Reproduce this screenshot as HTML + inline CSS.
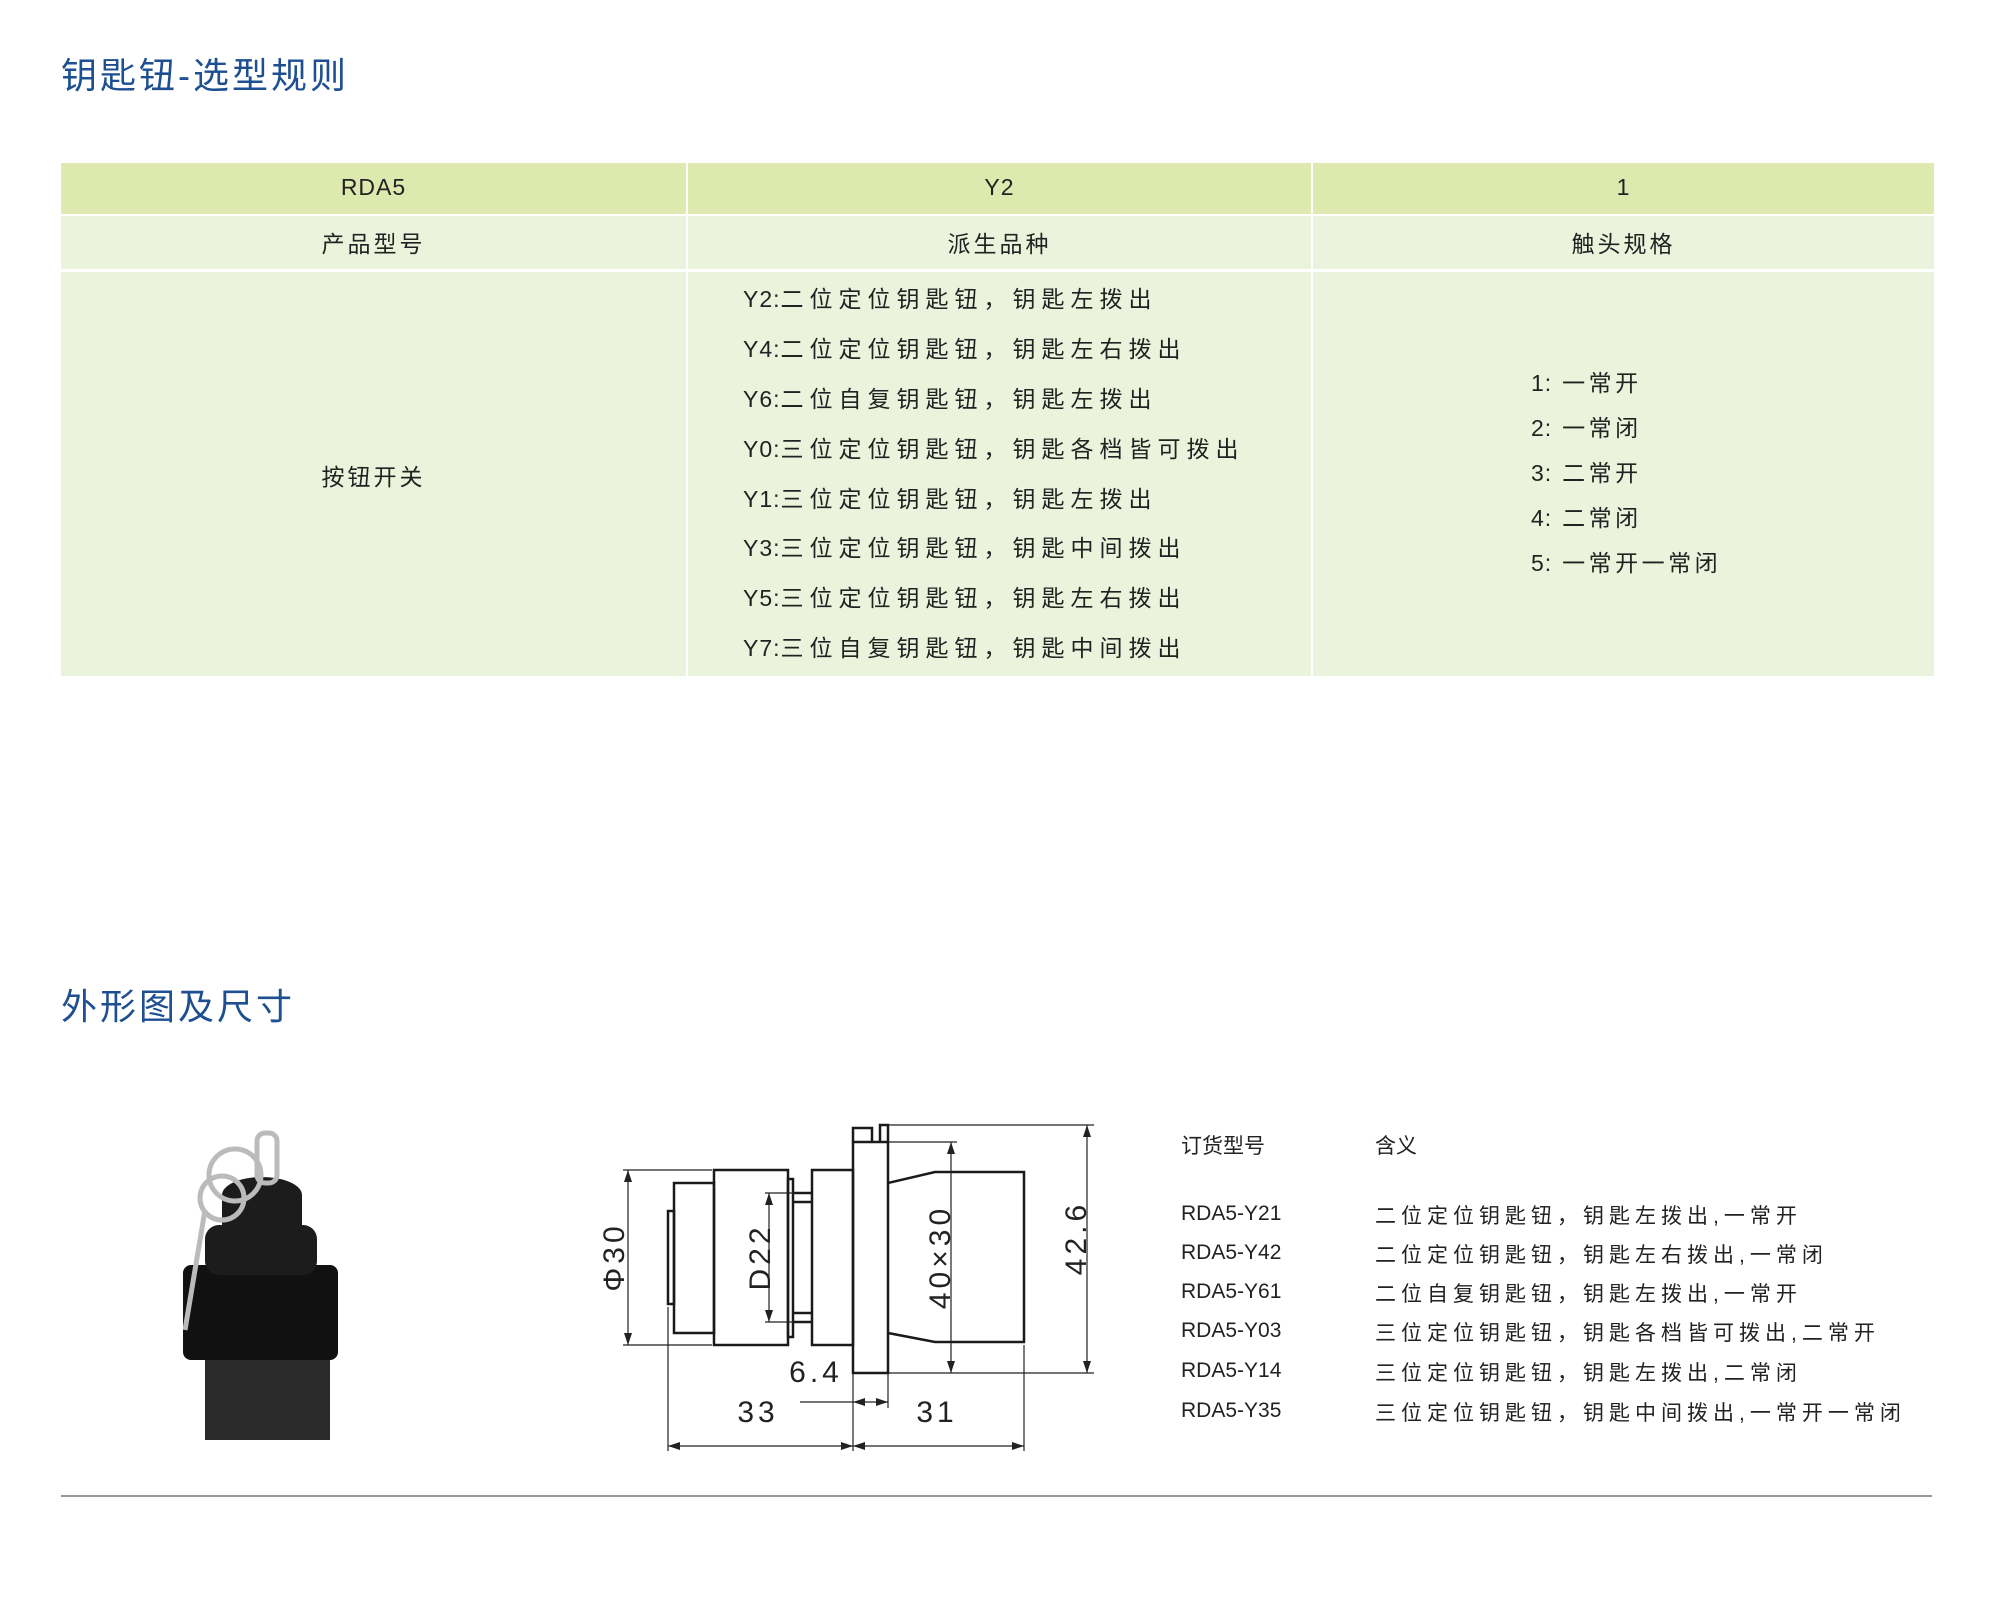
<!DOCTYPE html>
<html><head><meta charset="utf-8"><style>
body{margin:0;width:2000px;height:1597px;background:#fff;position:relative;overflow:hidden;font-family:"Liberation Sans","Noto Sans CJK SC",sans-serif;color:#222}
.a{position:absolute;white-space:nowrap}
.t{color:#1d4f91;font-size:36px;letter-spacing:3px}
.c{position:absolute;text-align:center;font-size:23px;letter-spacing:3px}
.h{letter-spacing:1px}
.l{position:absolute;font-size:23px;letter-spacing:6px}
.l span,.m span{letter-spacing:1px}
.m{position:absolute;font-size:23px;letter-spacing:3.5px}
.r{position:absolute;font-size:21px}
.r2{position:absolute;font-size:21px;letter-spacing:5px}
</style></head><body>
<div class="a t" style="left:61px;top:47px">钥匙钮-选型规则</div>
<div class="a" style="left:61px;top:163px;width:1873px;height:51px;background:#dde9ae"></div>
<div class="a" style="left:61px;top:216px;width:1873px;height:53px;background:#ecf3dc"></div>
<div class="a" style="left:61px;top:272px;width:1873px;height:404px;background:#ecf3dc"></div>
<div class="a" style="left:686px;top:163px;width:2px;height:513px;background:#fff"></div>
<div class="a" style="left:1311px;top:163px;width:2px;height:513px;background:#fff"></div>
<div class="c h" style="left:61px;width:625px;top:174px">RDA5</div>
<div class="c h" style="left:688px;width:623px;top:174px">Y2</div>
<div class="c h" style="left:1313px;width:621px;top:174px">1</div>
<div class="c" style="left:61px;width:625px;top:225px">产品型号</div>
<div class="c" style="left:688px;width:623px;top:225px">派生品种</div>
<div class="c" style="left:1313px;width:621px;top:225px">触头规格</div>
<div class="c" style="left:61px;width:625px;top:458px">按钮开关</div>
<div class="l" style="left:743px;top:280px"><span>Y2:</span>二位定位钥匙钮，钥匙左拨出</div>
<div class="l" style="left:743px;top:330px"><span>Y4:</span>二位定位钥匙钮，钥匙左右拨出</div>
<div class="l" style="left:743px;top:380px"><span>Y6:</span>二位自复钥匙钮，钥匙左拨出</div>
<div class="l" style="left:743px;top:430px"><span>Y0:</span>三位定位钥匙钮，钥匙各档皆可拨出</div>
<div class="l" style="left:743px;top:480px"><span>Y1:</span>三位定位钥匙钮，钥匙左拨出</div>
<div class="l" style="left:743px;top:529px"><span>Y3:</span>三位定位钥匙钮，钥匙中间拨出</div>
<div class="l" style="left:743px;top:579px"><span>Y5:</span>三位定位钥匙钮，钥匙左右拨出</div>
<div class="l" style="left:743px;top:629px"><span>Y7:</span>三位自复钥匙钮，钥匙中间拨出</div>
<div class="m" style="left:1531px;top:364px"><span>1:</span> 一常开</div>
<div class="m" style="left:1531px;top:409px"><span>2:</span> 一常闭</div>
<div class="m" style="left:1531px;top:454px"><span>3:</span> 二常开</div>
<div class="m" style="left:1531px;top:499px"><span>4:</span> 二常闭</div>
<div class="m" style="left:1531px;top:544px"><span>5:</span> 一常开一常闭</div>
<div class="a t" style="left:61px;top:978px">外形图及尺寸</div>

<svg class="a" style="left:0;top:0" width="2000" height="1597">
<g fill="#1c1c1c">
<rect x="205" y="1355" width="125" height="85" fill="#2a2a2a"/>
<rect x="183" y="1265" width="155" height="95" rx="8" fill="#111"/>
<rect x="205" y="1225" width="112" height="50" rx="14"/>
<ellipse cx="262" cy="1195" rx="40" ry="18"/>
<rect x="222" y="1195" width="80" height="40"/>
</g>
<g fill="none" stroke="#bbb" stroke-width="5">
<circle cx="235" cy="1175" r="26"/><circle cx="222" cy="1198" r="22"/>
<rect x="257" y="1133" width="20" height="50" rx="8"/>
<path d="M205 1210 L185 1330"/>
</g>
<g transform="translate(-6,-4)">
<g fill="none" stroke="#1a1a1a" stroke-width="2.5">
<rect x="674" y="1215" width="6" height="93"/>
<rect x="680" y="1187" width="40" height="150"/>
<rect x="720" y="1174" width="74" height="175"/>
<rect x="794" y="1183" width="5" height="158"/>
<path d="M799 1197H818M799 1326H818M799 1206H818M799 1317H818"/>
<rect x="818" y="1174" width="41" height="175"/>
<rect x="859" y="1146" width="35" height="231"/>
<path d="M859 1146V1132H878V1146M886 1146V1129H894V1146"/>
<path d="M894 1187L941 1176H1030V1346H941L894 1337"/>
</g>
<g fill="none" stroke="#222" stroke-width="1.2">
<path d="M629 1174H718M629 1349H718M634 1174V1349"/>
<path d="M771 1197H800M771 1326H800M775 1197V1326"/>
<path d="M894 1146H963M957 1146V1377M894 1377H1030"/>
<path d="M894 1129H1100M1093 1129V1377M1030 1377H1100"/>
<path d="M806 1406H894M859 1377V1455M894 1377V1412"/>
<path d="M674 1311V1455M674 1450H1030M1030 1349V1455"/>
</g>
<g fill="#222">
<path d="M634 1174l-4 12h8zM634 1349l-4-12h8z"/>
<path d="M775 1197l-4 12h8zM775 1326l-4-12h8z"/>
<path d="M957 1146l-4 12h8zM957 1377l-4-12h8z"/>
<path d="M1093 1129l-4 12h8zM1093 1377l-4-12h8z"/>
<path d="M859 1406l12-4v8zM894 1406l-12-4v8z"/>
<path d="M674 1450l12-4v8zM859 1450l-12-4v8zM859 1450l12-4v8zM1030 1450l-12-4v8z"/>
</g>
<g font-family="Liberation Sans,DejaVu Sans,sans-serif" font-size="30" fill="#222" letter-spacing="4" text-anchor="middle">
<text transform="translate(630,1261) rotate(-90)">Φ30</text>
<text transform="translate(776,1261) rotate(-90)">D22</text>
<text transform="translate(956,1261) rotate(-90)">40×30</text>
<text transform="translate(1092,1242) rotate(-90)">42.6</text>
<text x="822" y="1386">6.4</text>
<text x="764" y="1426">33</text>
<text x="943" y="1426">31</text>
</g>
</g>
</svg>

<div class="r" style="left:1181px;top:1130px">订货型号</div>
<div class="r" style="left:1375px;top:1130px">含义</div>
<div class="r" style="left:1181px;top:1202px">RDA5-Y21</div>
<div class="r" style="left:1181px;top:1241px">RDA5-Y42</div>
<div class="r" style="left:1181px;top:1280px">RDA5-Y61</div>
<div class="r" style="left:1181px;top:1319px">RDA5-Y03</div>
<div class="r" style="left:1181px;top:1359px">RDA5-Y14</div>
<div class="r" style="left:1181px;top:1399px">RDA5-Y35</div>
<div class="r2" style="left:1375px;top:1200px">二位定位钥匙钮，钥匙左拨出,一常开</div>
<div class="r2" style="left:1375px;top:1239px">二位定位钥匙钮，钥匙左右拨出,一常闭</div>
<div class="r2" style="left:1375px;top:1278px">二位自复钥匙钮，钥匙左拨出,一常开</div>
<div class="r2" style="left:1375px;top:1317px">三位定位钥匙钮，钥匙各档皆可拨出,二常开</div>
<div class="r2" style="left:1375px;top:1357px">三位定位钥匙钮，钥匙左拨出,二常闭</div>
<div class="r2" style="left:1375px;top:1397px">三位定位钥匙钮，钥匙中间拨出,一常开一常闭</div>
<div class="a" style="left:61px;top:1495px;width:1871px;height:2px;background:#999"></div>
</body></html>
